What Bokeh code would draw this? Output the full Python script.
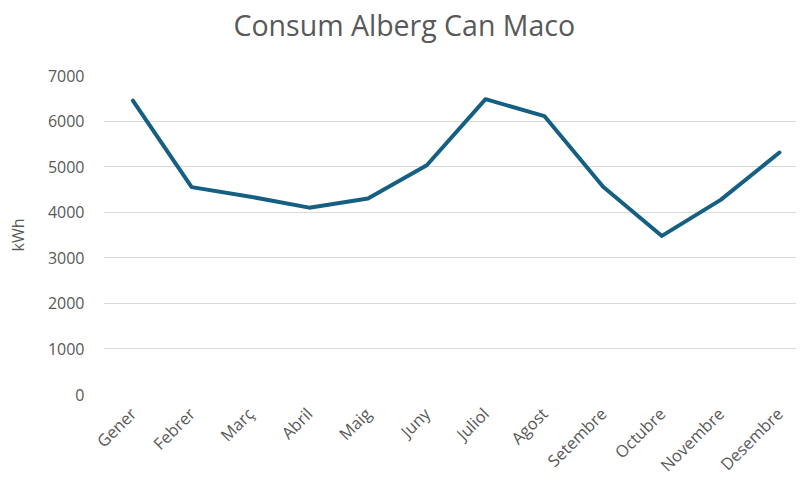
import math
from bokeh.plotting import figure
from bokeh.models import Range1d, FixedTicker, Title
from bokeh.embed import file_html
from bokeh.resources import INLINE

months = ["Gener", "Febrer", "Març", "Abril", "Maig", "Juny", "Juliol",
          "Agost", "Setembre", "Octubre", "Novembre", "Desembre"]
consum = [6450, 4550, 4340, 4100, 4300, 5030, 6480, 6110, 4560, 3480, 4270, 5310]
y_ticks = [0, 1000, 2000, 3000, 4000, 5000, 6000, 7000]

xs = list(range(len(months)))

FONT = "Open Sans"
GREY = "#595959"

p = figure(frame_width=693, frame_height=319,
           x_range=Range1d(-0.5, 11.29), y_range=Range1d(0, 7000),
           output_backend="svg", toolbar_location=None,
           min_border_left=103, min_border_right=0, min_border_top=0,
           min_border_bottom=10)

p.line(xs, consum, line_color="#156082", line_width=4, line_join="round", line_cap="round")

# spacer between title and plot area
p.add_layout(Title(text=" ", text_font_size="1px", standoff=26), "above")

p.title.text = "Consum Alberg Can Maco"
p.title.align = "left"
p.title.offset = 130
p.title.text_font = FONT
p.title.text_font_size = "28.5px"
p.title.text_font_style = "normal"
p.title.text_color = GREY
p.title.standoff = 6

p.outline_line_color = None
p.xgrid.grid_line_color = None
p.ygrid.grid_line_color = "#d9d9d9"
p.ygrid.grid_line_width = 1
p.ygrid.ticker = FixedTicker(ticks=y_ticks)

p.yaxis.ticker = FixedTicker(ticks=y_ticks)
p.yaxis.axis_line_color = None
p.yaxis.major_tick_line_color = None
p.yaxis.minor_tick_line_color = None
p.yaxis.major_tick_out = 0
p.yaxis.major_tick_in = 0
p.yaxis.major_label_standoff = 19
p.yaxis.major_label_text_font = FONT
p.yaxis.major_label_text_font_size = "16px"
p.yaxis.major_label_text_color = GREY
p.yaxis.axis_label = "kWh"
p.yaxis.axis_label_text_font = FONT
p.yaxis.axis_label_text_font_size = "16px"
p.yaxis.axis_label_text_font_style = "normal"
p.yaxis.axis_label_text_color = GREY
p.yaxis.axis_label_standoff = 16

p.xaxis.ticker = FixedTicker(ticks=xs)
p.xaxis.major_label_overrides = {i: m for i, m in enumerate(months)}
p.xaxis.major_label_orientation = math.pi / 4
p.xaxis.axis_line_color = None
p.xaxis.major_tick_line_color = None
p.xaxis.minor_tick_line_color = None
p.xaxis.major_tick_out = 0
p.xaxis.major_tick_in = 0
p.xaxis.major_label_standoff = 16
p.xaxis.major_label_text_font = FONT
p.xaxis.major_label_text_font_size = "16.5px"
p.xaxis.major_label_text_color = GREY

open("out.html", "w").write(file_html(p, INLINE))
